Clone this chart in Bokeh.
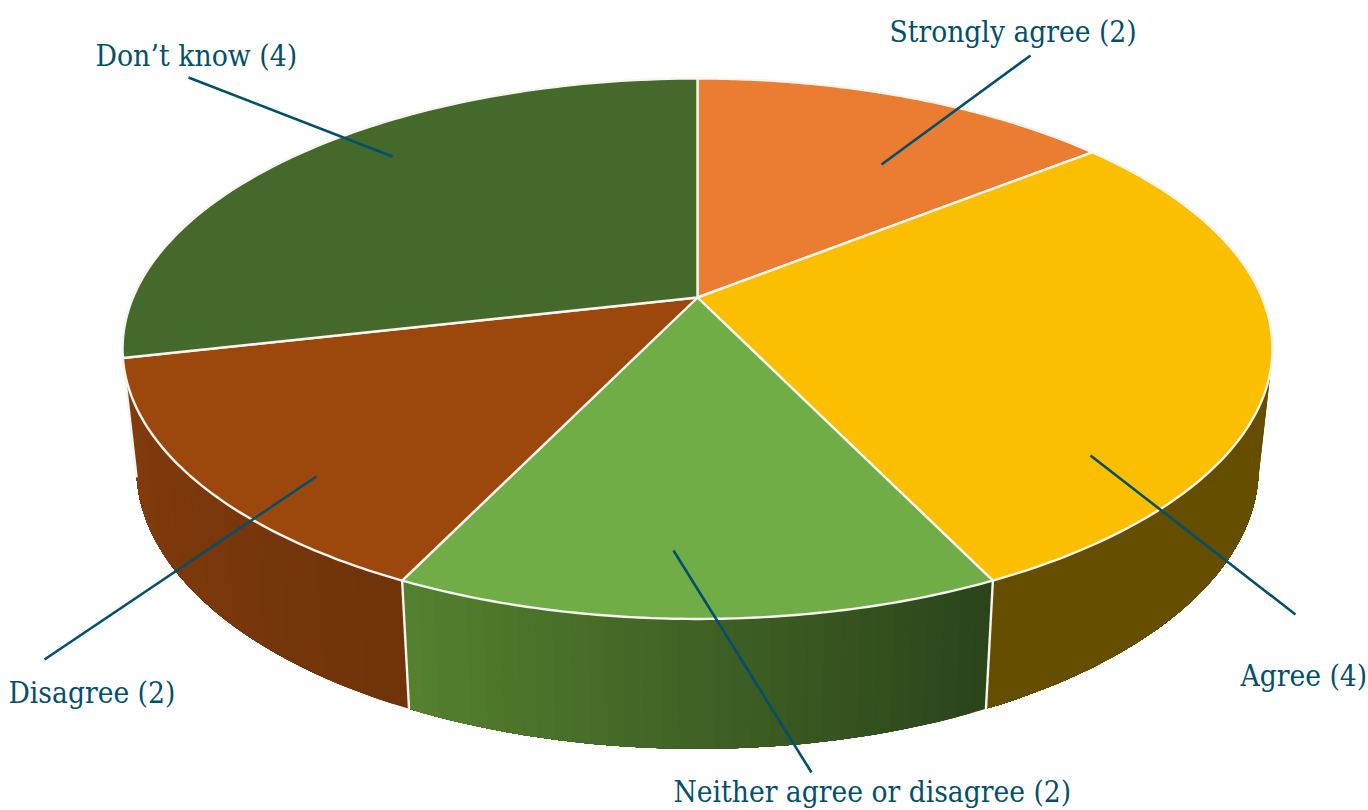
import numpy as np
from bokeh.plotting import figure
from bokeh.embed import file_html
from bokeh.resources import INLINE
from bokeh.core.properties import value

# --- data -------------------------------------------------------------
categories = ["Strongly agree", "Agree", "Neither agree or disagree", "Disagree", "Don't know"]
label_names = ["Strongly agree (2)", "Agree (4)", "Neither agree or disagree (2)", "Disagree (2)", "Don\u2019t know (4)"]
counts = [2, 4, 2, 2, 4]

# --- style ------------------------------------------------------------
top_colors = ["#EB7D32", "#FBBF00", "#70AD47", "#9C470C", "#45682B"]
wall_left = ["#8A4A1C", "#664E00", "#55812F", "#843C0C", "#843C0C"]
wall_right = ["#8A4A1C", "#664E00", "#2A431A", "#70330A", "#843C0C"]
ink = "#02506B"
edge = "#F6F5F0"

# --- layout (page pixels) ---------------------------------------------
W, H = 1368, 810
CX = 697.0
TOP = dict(cy=297.0, fx=564.5, fy=260.5, k=0.1896)
BOT = dict(cy=414.0, fx=551.0, fy=270.8, k=0.19)

label_x = [889, 1240, 673, 8, 95]
label_y = [31, 675, 791.5, 692, 55]
label_px = [29.6, 29.6, 29.6, 29.6, 29.8]
leader_x0 = [1030, 1295, 811, 44, 188]
leader_y0 = [55, 614, 772, 659, 77]
leader_x1 = [881, 1090, 673, 316, 392]
leader_y1 = [164, 455, 550, 476, 156]


def project(theta, g):
    """theta clockwise from the back of the pie (radians), perspective on screen."""
    X, Y = np.sin(theta), -np.cos(theta)
    D = 1 - g["k"] * Y
    return CX + g["fx"] * X / D, g["cy"] + g["fy"] * Y / D


def mix(a, b, t):
    ca = [int(a[i:i + 2], 16) for i in (1, 3, 5)]
    cb = [int(b[i:i + 2], 16) for i in (1, 3, 5)]
    return "#%02x%02x%02x" % tuple(round(u + (v - u) * t) for u, v in zip(ca, cb))


fractions = np.cumsum([0] + counts) / sum(counts)
angles = 2 * np.pi * fractions

p = figure(width=W, height=H, x_range=(0, W), y_range=(H, 0), toolbar_location=None,
           output_backend="svg", min_border=0, outline_line_color=None,
           background_fill_color="white")
p.axis.visible = False
p.grid.visible = False

# walls, back to front; each strip runs under the next so no seams show
order = sorted(range(len(counts)), key=lambda i: abs(((angles[i] + angles[i + 1]) / 2) - np.pi), reverse=True)
for i in order:
    a0, a1 = angles[i], angles[i + 1]
    steps = max(4, int((a1 - a0) / np.radians(1.5)))
    grid = np.linspace(a0, a1, steps + 1)
    for j in range(steps):
        fine = np.linspace(grid[j], a1, steps - j + 1)
        tx, ty = project(fine, TOP)
        bx, by = project(fine[::-1], BOT)
        col = mix(wall_right[i], wall_left[i], (j + 0.5) / steps)
        p.patch(list(tx) + list(bx), list(ty) + list(by), fill_color=col, line_color=None)

# white seams between front walls
for i in range(len(counts)):
    a = angles[i]
    if np.pi / 2 < a < 3 * np.pi / 2:
        x0, y0 = project(a, TOP)
        x1, y1 = project(a, BOT)
        p.line([x0, x1], [y0, y1], line_color=edge, line_width=2.4)

# top face
for i in range(len(counts)):
    grid = np.linspace(angles[i], angles[i + 1], 90)
    ex, ey = project(grid, TOP)
    xs = [CX] + list(ex)
    ys = [TOP["cy"]] + list(ey)
    p.patch(xs, ys, fill_color=top_colors[i], line_color=edge, line_width=2.4, line_join="round")

# leader lines and labels
for i in range(len(counts)):
    p.line([leader_x0[i], leader_x1[i]], [leader_y0[i], leader_y1[i]], line_color=ink, line_width=2.6)
    p.text([label_x[i]], [label_y[i]], text=[label_names[i]], text_color=ink,
           text_font=value("DejaVu Serif Condensed"), text_font_size=f"{label_px[i]}px",
           text_align="left", text_baseline="middle")

open("out.html", "w").write(file_html(p, INLINE))
